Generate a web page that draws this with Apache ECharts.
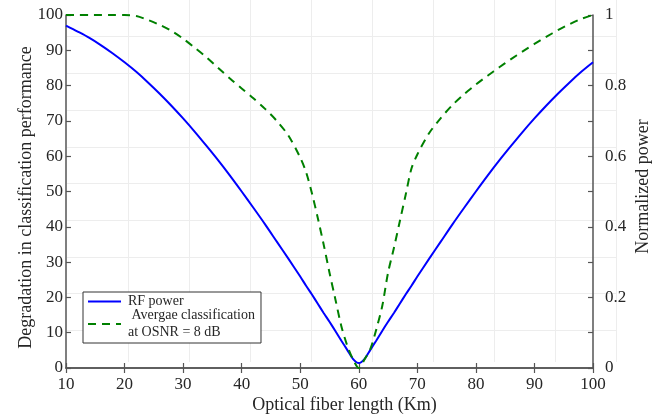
<!DOCTYPE html>
<html>
<head>
<meta charset="utf-8">
<script src="https://cdn.jsdelivr.net/npm/echarts@6/dist/echarts.min.js"></script>
<style>
  html, body { margin: 0; padding: 0; background: #fff; }
  #chart { width: 663px; height: 417px; }
</style>
</head>
<body>
<div id="chart"></div>
<script>
// Fiber length samples (km)
const lengthKm = [10, 12, 14, 16, 18, 20, 22, 24, 26, 28, 30, 32, 34, 36, 38, 40, 42, 44, 46, 48, 50,
  51, 52, 53, 54, 55, 56, 57, 58, 59, 60, 61, 62, 63, 64, 65, 66, 67, 68, 69, 70,
  72, 74, 76, 78, 80, 82, 84, 86, 88, 90, 92, 94, 96, 98, 100];

// Normalized RF power (right axis)
const rfPower = [0.970, 0.953, 0.935, 0.914, 0.891, 0.866, 0.839, 0.809, 0.777, 0.743, 0.707, 0.669, 0.629, 0.588, 0.545, 0.500, 0.454, 0.407, 0.358, 0.309, 0.259,
  0.233, 0.208, 0.182, 0.156, 0.131, 0.105, 0.078, 0.052, 0.026, 0.014, 0.026, 0.052, 0.078, 0.105, 0.131, 0.156, 0.182, 0.208, 0.233, 0.259,
  0.309, 0.358, 0.407, 0.454, 0.500, 0.545, 0.588, 0.629, 0.669, 0.707, 0.743, 0.777, 0.809, 0.839, 0.866];

// Degradation in classification performance (left axis)
const avgClass = [100, 100, 100, 100, 100, 100, 99.7, 98.6, 97.2, 95.5, 93.3, 90.7, 88.0, 85.0, 82.0, 79.2, 76.4, 73.4, 70.0, 65.8, 59.6,
  55.5, 49.5, 42.5, 35.0, 27.0, 19.5, 12.0, 6.5, 2.5, 0, 2.5, 5.5, 11.0, 17.5, 27.0, 34.0, 41.5, 49.0, 56.5, 60.5,
  66.5, 70.8, 74.5, 77.6, 80.3, 82.8, 85.2, 87.5, 89.7, 91.8, 93.8, 95.7, 97.4, 98.9, 100];

const seriesNames = ['RF power', 'Avergae classification at OSNR = 8 dB'];
const legendLabels = ['RF power', ' Avergae classification\nat OSNR = 8 dB'];

const xTitle = 'Optical fiber length (Km)';
const yLeftTitle = 'Degradation in classification performance';
const yRightTitle = 'Normalized power';

const FONT = 'Liberation Serif';
const TEXT = '#262626';
const AXIS = '#555555';
const FAINT = '#ededed';

const pairs = (xs, ys) => xs.map((x, i) => [x, ys[i]]);

const axisLineStyle = { show: true, lineStyle: { color: AXIS, width: 1.5 } };
const tickStyle = { show: true, inside: true, length: 5, lineStyle: { color: AXIS, width: 1.2 } };
const labelStyle = { color: TEXT, fontFamily: FONT, fontSize: 17 };

const chart = echarts.init(document.getElementById('chart'), null, { renderer: 'canvas' });

chart.setOption({
  backgroundColor: '#ffffff',
  animation: false,
  grid: [
    { left: 66, right: 70, top: 15, bottom: 49, containLabel: false, outerBoundsMode: 'none' },
    // faint background lattice
    { left: 67, right: 46, top: 0, bottom: 55, containLabel: false, outerBoundsMode: 'none' }
  ],
  legend: {
    data: seriesNames,
    orient: 'vertical',
    left: 83,
    top: 292,
    padding: [1, 6, 2, 4],
    itemGap: -3,
    itemWidth: 33,
    itemHeight: 14,
    backgroundColor: '#ffffff',
    borderColor: '#333333',
    borderWidth: 1,
    borderRadius: 0,
    itemStyle: { opacity: 0 },
    lineStyle: { width: 2 },
    textStyle: { color: TEXT, fontFamily: FONT, fontSize: 14, lineHeight: 17, padding: [0, 0, 0, 2] },
    formatter: name => legendLabels[seriesNames.indexOf(name)]
  },
  xAxis: [
    {
      type: 'value', gridIndex: 0, position: 'bottom',
      min: 10, max: 100, interval: 10,
      name: xTitle, nameLocation: 'middle', nameGap: 28, nameMoveOverlap: false,
      nameTextStyle: { color: TEXT, fontFamily: FONT, fontSize: 18, padding: [0, 0, 0, 30] },
      axisLine: axisLineStyle, axisTick: tickStyle,
      axisLabel: Object.assign({ margin: 8 }, labelStyle),
      splitLine: { show: false }
    },
    {
      type: 'value', gridIndex: 0, position: 'top',
      min: 10, max: 100, interval: 10,
      axisLine: axisLineStyle, axisTick: tickStyle,
      axisLabel: { show: false }, splitLine: { show: false }
    },
    {
      type: 'value', gridIndex: 1, min: 0, max: 550, interval: 61,
      axisLine: { show: false }, axisTick: { show: false }, axisLabel: { show: false },
      splitLine: { show: true, showMinLine: false, showMaxLine: false, lineStyle: { color: FAINT, width: 1 } }
    }
  ],
  yAxis: [
    {
      type: 'value', gridIndex: 0, position: 'left',
      min: 0, max: 100, interval: 10,
      name: yLeftTitle, nameLocation: 'middle', nameGap: 31, nameRotate: 90, nameMoveOverlap: false,
      nameTextStyle: { color: TEXT, fontFamily: FONT, fontSize: 18, padding: [0, 12, 0, 0] },
      axisLine: axisLineStyle, axisTick: tickStyle,
      axisLabel: Object.assign({ margin: 3 }, labelStyle),
      splitLine: { show: false }
    },
    {
      type: 'value', gridIndex: 0, position: 'right',
      min: 0, max: 1, interval: 0.1,
      name: yRightTitle, nameLocation: 'middle', nameGap: 41, nameRotate: 90, nameMoveOverlap: false,
      nameTextStyle: { color: TEXT, fontFamily: FONT, fontSize: 18, padding: [0, 0, 0, 10] },
      axisLine: axisLineStyle, axisTick: tickStyle,
      axisLabel: Object.assign({
        margin: 12,
        formatter: v => {
          const t = Math.round(v * 10);
          return t % 2 === 0 ? String(t / 10) : '';
        }
      }, labelStyle),
      splitLine: { show: false }
    },
    {
      type: 'value', gridIndex: 1, min: 0, max: 362, interval: 36.7, inverse: true,
      axisLine: { show: false }, axisTick: { show: false }, axisLabel: { show: false },
      splitLine: { show: true, showMinLine: false, showMaxLine: false, lineStyle: { color: FAINT, width: 1 } }
    }
  ],
  series: [
    {
      name: seriesNames[0], type: 'line',
      xAxisIndex: 0, yAxisIndex: 1,
      data: pairs(lengthKm, rfPower),
      symbol: 'none', showSymbol: false, smooth: 0.3,
      lineStyle: { color: '#0000ff', width: 2 },
      itemStyle: { color: '#0000ff' },
      z: 3
    },
    {
      name: seriesNames[1], type: 'line',
      xAxisIndex: 0, yAxisIndex: 0,
      data: pairs(lengthKm, avgClass),
      symbol: 'none', showSymbol: false, smooth: 0.3,
      lineStyle: { color: '#008000', width: 2, type: [8, 6] },
      itemStyle: { color: '#008000' },
      z: 4
    }
  ]
});
</script>
</body>
</html>
